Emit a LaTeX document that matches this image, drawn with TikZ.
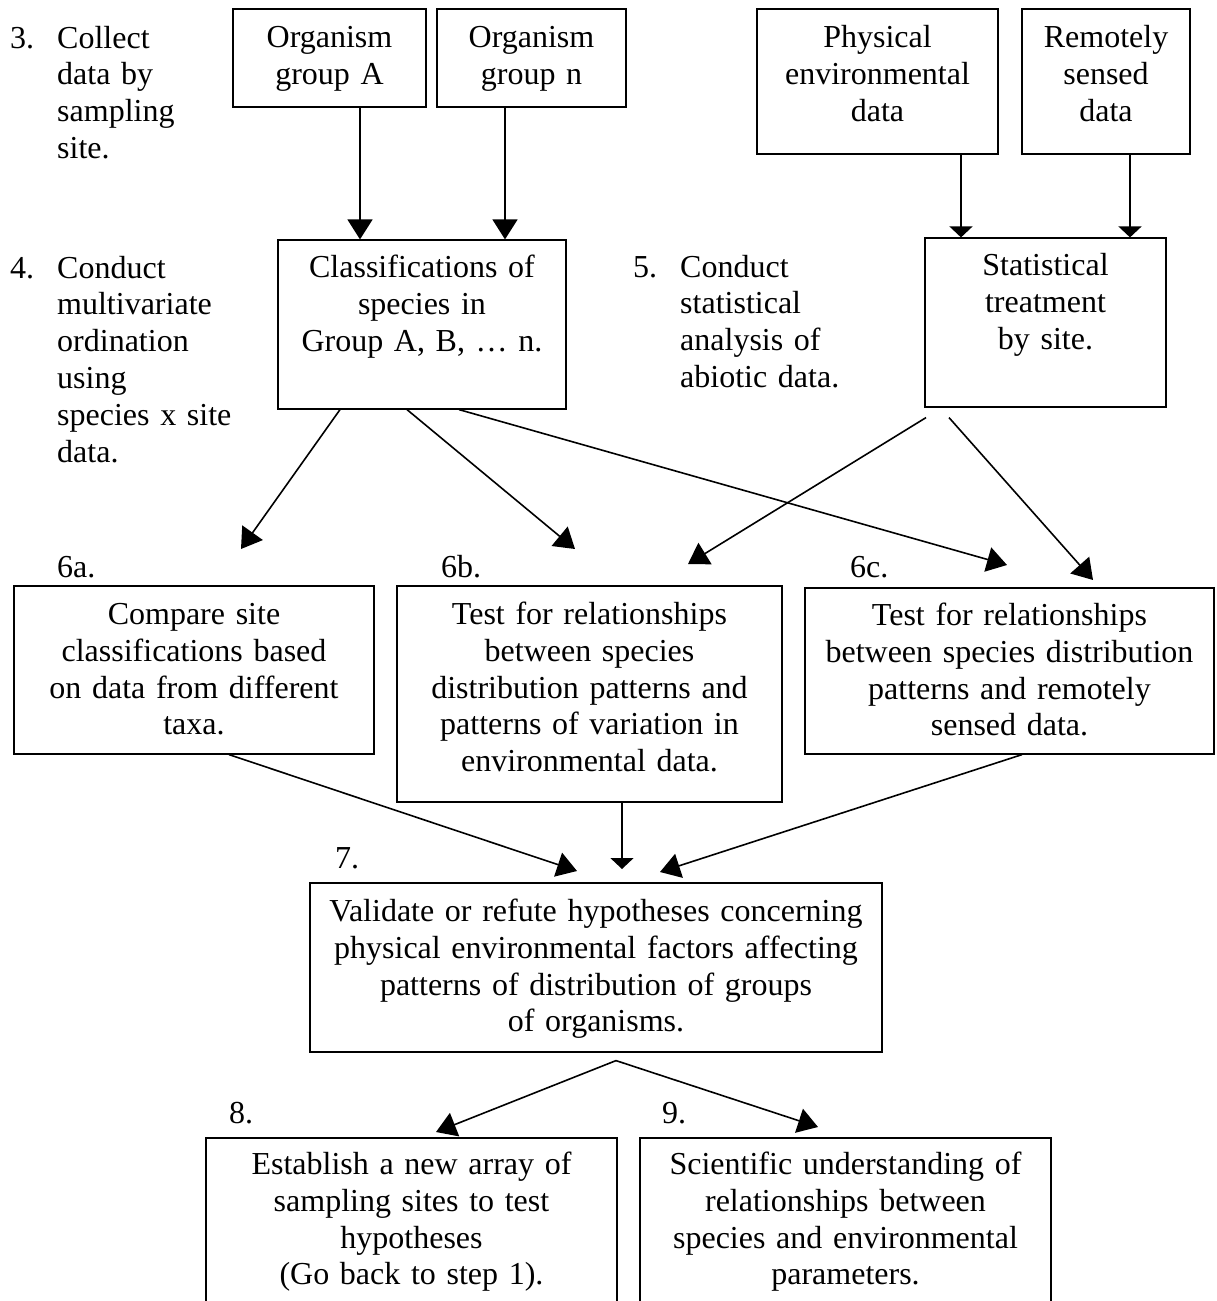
\documentclass[tikz,border=0pt]{standalone}
\usepackage{fontspec}
\setmainfont{Liberation Serif}
\usetikzlibrary{arrows.meta}
\tikzset{
  box/.style={draw, line width=1.2pt, inner sep=0pt},
  txt/.style={inner sep=0pt, text width=#1, align=center, anchor=base,
    font=\fontsize{32}{36.8}\selectfont},
  lst/.style={inner sep=0pt, text width=#1, align=left, anchor=base west,
    font=\fontsize{32}{36.8}\selectfont},
  num/.style={inner sep=0pt, anchor=base west, font=\fontsize{32}{36.8}\selectfont},
  arr/.style={line width=1.6pt, -{Triangle[length=20pt,width=25pt]}},
  flatarr/.style={line width=1.6pt, -{Triangle[length=11pt,width=23pt]}}
}
\begin{document}
\begin{tikzpicture}[x=1pt,y=-1pt]
  \clip (0,0) rectangle (1216,1301);
  % step labels
  \node[num] (n3) at (10,48) {3.};
  \node[lst=180pt] (s3) at (57,48) {Collect\\data by\\sampling\\site.};
  \node[num] (n4) at (10,278) {4.};
  \node[lst=190pt] (s4) at (57,278) {Conduct\\multivariate\\ordination\\using\\species x site\\data.};
  \node[num] (n5) at (633,277) {5.};
  \node[lst=190pt] (s5) at (680,277) {Conduct\\statistical\\analysis of\\abiotic data.};
  \node[num] (n6a) at (57,577) {6a.};
  \node[num] (n6b) at (441,577) {6b.};
  \node[num] (n6c) at (850,577) {6c.};
  \node[num] (n7) at (335,868) {7.};
  \node[num] (n8) at (229,1123) {8.};
  \node[num] (n9) at (662,1123) {9.};
  % boxes
  \node[box, minimum width=193, minimum height=98] (orgA) at (329.5,58) {};
  \node[box, minimum width=189, minimum height=98] (orgN) at (531.5,58) {};
  \node[box, minimum width=241, minimum height=145] (phys) at (877.5,81.5) {};
  \node[box, minimum width=168, minimum height=145] (remo) at (1106,81.5) {};
  \node[box, minimum width=288, minimum height=169] (cls) at (422,324.5) {};
  \node[box, minimum width=241, minimum height=169] (stat) at (1045.5,322.5) {};
  \node[box, minimum width=360, minimum height=168] (cmp) at (194,670) {};
  \node[box, minimum width=385, minimum height=216] (tenv) at (589.5,694) {};
  \node[box, minimum width=409, minimum height=166] (trem) at (1009.5,671) {};
  \node[box, minimum width=572, minimum height=169] (valid) at (596,967.5) {};
  \node[box, minimum width=411, minimum height=182] (estab) at (411.5,1229) {};
  \node[box, minimum width=411, minimum height=182] (sci) at (845.5,1229) {};
  % box texts
  \node[txt=193pt] (orgAt) at ([yshift=-39pt]orgA.north) {Organism\\group A};
  \node[txt=189pt] (orgNt) at ([yshift=-39pt]orgN.north) {Organism\\group n};
  \node[txt=241pt] (physt) at ([yshift=-39pt]phys.north) {Physical\\environmental\\data};
  \node[txt=168pt] (remot) at ([yshift=-39pt]remo.north) {Remotely\\sensed\\data};
  \node[txt=288pt] (clst) at ([yshift=-38pt]cls.north) {Classifications of\\species in\\Group A, B, … n.};
  \node[txt=241pt] (statt) at ([yshift=-38pt]stat.north) {Statistical\\treatment\\by site.};
  \node[txt=360pt] (cmpt) at ([yshift=-39pt]cmp.north) {Compare site\\classifications based\\on data from different\\taxa.};
  \node[txt=385pt] (tenvt) at ([yshift=-39pt]tenv.north) {Test for relationships\\between species\\distribution patterns and\\patterns of variation in\\environmental data.};
  \node[txt=409pt] (tremt) at ([yshift=-38pt]trem.north) {Test for relationships\\between species distribution\\patterns and remotely\\sensed data.};
  \node[txt=572pt] (validt) at ([yshift=-39pt]valid.north) {Validate or refute hypotheses concerning\\physical environmental factors affecting\\patterns of distribution of groups\\of organisms.};
  \node[txt=411pt] (estabt) at ([yshift=-37pt]estab.north) {Establish a new array of\\sampling sites to test\\hypotheses\\(Go back to step 1).};
  \node[txt=411pt] (scit) at ([yshift=-37pt]sci.north) {Scientific understanding of\\relationships between\\species and environmental\\parameters.};
  % free arrow ends
  \coordinate (t6aL) at (241,549);
  \coordinate (t6bL) at (575,549);
  \coordinate (t6cL) at (1007,565);
  \coordinate (t6bR) at (688,564);
  \coordinate (t6cR) at (1093,580);
  \coordinate (t7L) at (577,871);
  \coordinate (t7M) at (622,869);
  \coordinate (t7R) at (660,872);
  \coordinate (t8) at (436,1132);
  \coordinate (t9) at (818,1127);
  % connectors
  \draw[arr] ([xshift=30.5pt]orgA.south) -- ([xshift=-62pt]cls.north);
  \draw[arr] ([xshift=-26.5pt]orgN.south) -- ([xshift=83pt]cls.north);
  \draw[flatarr] ([xshift=83.5pt]phys.south) -- ([xshift=-84.5pt]stat.north);
  \draw[flatarr] ([xshift=24pt]remo.south) -- ([xshift=84.5pt]stat.north);
  \draw[arr] ([xshift=-82pt]cls.south) -- (t6aL);
  \draw[arr] ([xshift=-15pt]cls.south) -- (t6bL);
  \draw[arr] ([xshift=37pt]cls.south) -- (t6cL);
  \draw[arr] ([xshift=-119.5pt,yshift=-10pt]stat.south) -- (t6bR);
  \draw[arr] ([xshift=-96.5pt,yshift=-10pt]stat.south) -- (t6cR);
  \draw[arr] ([xshift=35pt]cmp.south) -- (t7L);
  \draw[flatarr] ([xshift=32.5pt]tenv.south) -- (t7M);
  \draw[arr] ([xshift=12.5pt]trem.south) -- (t7R);
  \draw[arr] ([xshift=20pt,yshift=-8pt]valid.south) -- (t8);
  \draw[arr] ([xshift=20pt,yshift=-8pt]valid.south) -- (t9);
\end{tikzpicture}
\end{document}
